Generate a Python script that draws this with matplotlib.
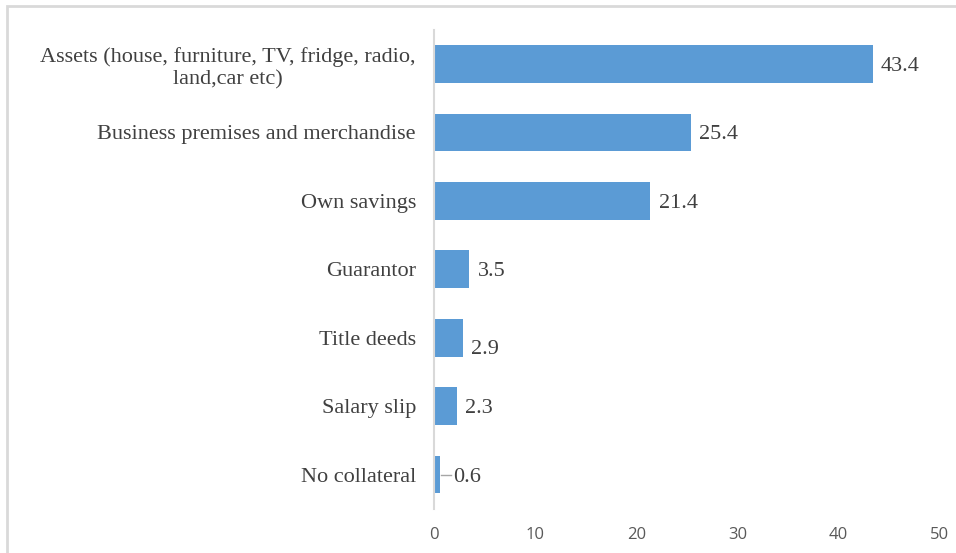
import matplotlib.pyplot as plt
import numpy as np
from matplotlib.patches import Rectangle

categories = ['Assets (house, furniture, TV, fridge, radio,\nland,car etc)',
              'Business premises and merchandise',
              'Own savings',
              'Guarantor',
              'Title deeds',
              'Salary slip',
              'No collateral']
values = [43.4, 25.4, 21.4, 3.5, 2.9, 2.3, 0.6]
xticks = [0, 10, 20, 30, 40, 50]

fig = plt.figure(figsize=(9.56, 5.53), dpi=100)
ax = fig.add_axes([0.454, 0.080, 0.529, 0.866])

y = np.arange(len(categories))[::-1]
ax.barh(y, values, height=0.55, color='#5B9BD5')
ax.set_ylim(-0.5, len(categories) - 0.5)
ax.set_xlim(0, 50)

# value labels (excel-style, a few nudged)
for yi, v in zip(y, values):
    dy = 0
    dx = 0.8
    if v == 2.9:
        dy = -0.13
    if v == 0.6:
        dx = 1.3
        ax.plot([v + 0.05, v + 1.1], [yi, yi], color='#A6A6A6', lw=1)
    ax.text(v + dx, yi + dy, f'{v:.1f}', va='center_baseline', ha='left',
            fontsize=16, color='#404040', family='Liberation Serif')

ax.set_yticks(y)
ax.set_yticklabels(categories, fontsize=16, color='#404040',
                   family='Liberation Serif', multialignment='center',
                   linespacing=1.2)
ax.set_xticks(xticks)
ax.set_xticklabels([str(t) for t in xticks], fontsize=12, color='#595959',
                   family='Open Sans')
ax.tick_params(axis='both', length=0)
ax.tick_params(axis='y', pad=13)
ax.tick_params(axis='x', pad=13)

for s in ['top', 'right', 'bottom']:
    ax.spines[s].set_visible(False)
ax.spines['left'].set_color('#D9D9D9')
ax.spines['left'].set_linewidth(1.5)

# light frame around the chart area
fig.patches.append(Rectangle((7 / 956, -0.1), 1.2, 1.1 - 6 / 553,
                             transform=fig.transFigure, fill=False,
                             edgecolor='#D9D9D9', lw=2))

fig.savefig('out.png', dpi=100)
